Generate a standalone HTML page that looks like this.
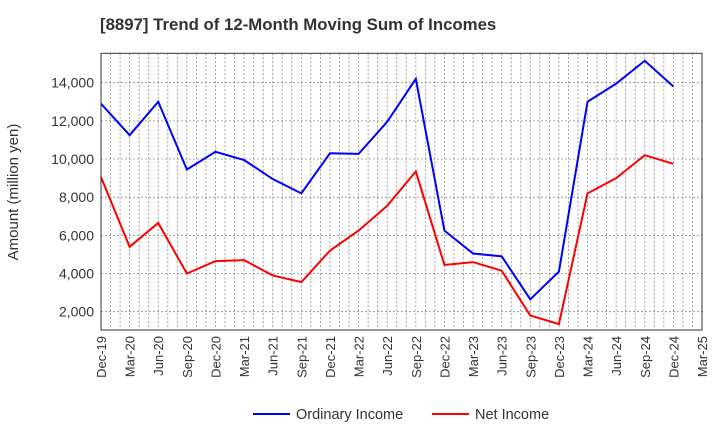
<!DOCTYPE html>
<html><head><meta charset="utf-8"><style>
body{margin:0;background:#fff;font-family:"Liberation Sans",Arial,sans-serif}
</style></head><body>
<svg width="720" height="440" xmlns="http://www.w3.org/2000/svg">
<text x="100" y="30" font-size="16.8" font-weight="bold" fill="#333">[8897]  Trend of 12-Month Moving Sum of Incomes</text>
<g id="grid"></g>
<g id="yticks"></g>
<g id="xticks"></g>
<g id="series"></g>
<rect x="101" y="53.3" width="601" height="276.7" fill="none" stroke="#333" stroke-width="1"/>
<text transform="translate(18,192) rotate(-90)" text-anchor="middle" font-size="15" fill="#333">Amount (million yen)</text>
<g>
<line x1="253" y1="414" x2="290" y2="414" stroke="#0000ff" stroke-width="2"/>
<text x="296" y="419" font-size="14.5" fill="#333">Ordinary Income</text>
<line x1="432" y1="414" x2="469" y2="414" stroke="#ff0000" stroke-width="2"/>
<text x="475" y="419" font-size="14.5" fill="#333">Net Income</text>
</g>
</svg>
<script>
const categories=["Dec-19","Mar-20","Jun-20","Sep-20","Dec-20","Mar-21","Jun-21","Sep-21","Dec-21","Mar-22","Jun-22","Sep-22","Dec-22","Mar-23","Jun-23","Sep-23","Dec-23","Mar-24","Jun-24","Sep-24","Dec-24","Mar-25"];
const ordinaryIncome=[12900,11250,13000,9450,10380,9950,8950,8200,10300,10270,11950,14200,6250,5050,4900,2650,4100,13000,13950,15150,13800];
const netIncome=[9050,5400,6650,4000,4650,4700,3900,3550,5200,6250,7550,9350,4450,4600,4150,1800,1350,8200,9000,10200,9750];
const yTicks=[2000,4000,6000,8000,10000,12000,14000];
const NS="http://www.w3.org/2000/svg";
const L=101,R=702,T=53.3,B=330;
function xs(i){return L+i*(R-L)/(categories.length-1);}
function ys(v){return 311.7-(v-2000)*(311.7-82.7)/12000;}
function mk(tag,attrs,parent){const e=document.createElementNS(NS,tag);for(const k in attrs)e.setAttribute(k,attrs[k]);parent.appendChild(e);return e;}
const grid=document.getElementById('grid'),yt=document.getElementById('yticks'),xt=document.getElementById('xticks'),sg=document.getElementById('series');
for(let m=1;m<(categories.length-1)*3;m++){const x=L+m*(R-L)/((categories.length-1)*3);
const g=mk('line',{x1:x,x2:x,y1:T,y2:B,stroke:'#888','stroke-width':0.8,'stroke-dasharray':'2,2'},grid);

}
yTicks.forEach(v=>{const y=ys(v);
const g=mk('line',{x1:L,x2:R,y1:y,y2:y,stroke:'#888','stroke-width':0.8,'stroke-dasharray':'2,2'},grid);


const t=mk('text',{x:L-7,y:y+5,'text-anchor':'end','font-size':14,fill:'#333'},yt);


t.textContent=v.toLocaleString('en-US');});
categories.forEach((c,i)=>{const x=xs(i);
const t=mk('text',{transform:`translate(${x+5},${B+6}) rotate(-90)`,'text-anchor':'end','font-size':13,fill:'#333'},xt);


t.textContent=c;});
function line(data,color,name){const p=mk('polyline',{points:data.map((v,i)=>xs(i)+','+ys(v)).join(' '),fill:'none',stroke:color,'stroke-width':2},sg);

}
line(ordinaryIncome,'#0000ff','ordinary-income-line');
line(netIncome,'#ff0000','net-income-line');
</script>
</body></html>
